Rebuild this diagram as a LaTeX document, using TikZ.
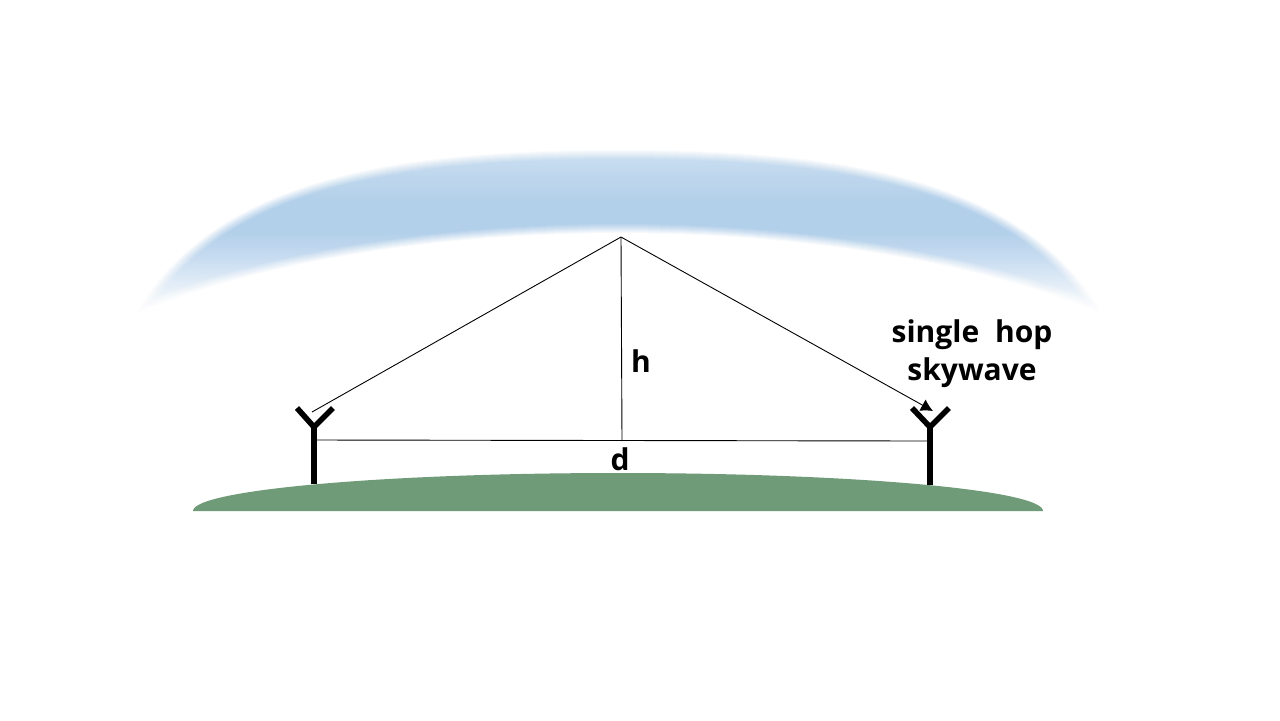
\documentclass[tikz,border=0pt]{standalone}
\usepackage{fontspec}
\setmainfont{Open Sans}
\usepackage{tikz}
\usetikzlibrary{arrows.meta}
\definecolor{groundgreen}{HTML}{6F9B78}
\definecolor{skyA}{HTML}{CCDFF1}
\definecolor{skyB}{HTML}{B3D0EA}
\definecolor{skyC}{HTML}{C6DBF0}
\pgfdeclareverticalshading{skyshade}{100bp}{color(0bp)=(white); color(26bp)=(white); color(43bp)=(skyC); color(50bp)=(skyB); color(60bp)=(skyB); color(75bp)=(skyA); color(100bp)=(skyA)}
\newcommand{\skyarc}{(133,316) .. controls (215,172) and (410,149) .. (619,149) .. controls (828,149) and (1023,172) .. (1105,316) .. controls (978,262) and (798,234) .. (619,234) .. controls (440,234) and (260,262) .. (133,316) -- cycle}
\begin{document}
\begin{tikzpicture}[x=.5pt,y=-.5pt,
   ray/.style={black,line width=.45pt},
   antenna/.style={black,line width=2.8pt},
   label/.style={font=\bfseries\fontsize{15}{19}\selectfont,inner sep=0pt,align=center}]
\useasboundingbox[fill=white] (0,0) rectangle (1280,720);
\fill[shading=skyshade] \skyarc;
\foreach \k [evaluate=\k as \o using 1/\k] in {10,9,...,1}
    \draw[white,opacity=\o,line width=\k pt,line join=round] \skyarc;
\fill[groundgreen] (193,511) arc[start angle=180,end angle=360,x radius=425,y radius=38] -- cycle;
\coordinate (apex) at (621,237);
\coordinate (leftbase) at (314,484);
\coordinate (leftjoint) at (314,427);
\coordinate (lefttipa) at (297,408);
\coordinate (lefttipb) at (333,408);
\coordinate (leftfoot) at (316,440);
\coordinate (rightbase) at (930,485);
\coordinate (rightjoint) at (930,427);
\coordinate (righttipa) at (912,408);
\coordinate (righttipb) at (949,408);
\coordinate (rightfoot) at (930,441);
\coordinate (midfoot) at (622,441);
\coordinate (leftray) at (312,412);
\coordinate (rightray) at (933,411);
\draw[antenna] (leftbase) -- (leftjoint);
\draw[antenna] (lefttipa) -- (leftjoint) -- (lefttipb);
\draw[antenna] (rightbase) -- (rightjoint);
\draw[antenna] (righttipa) -- (rightjoint) -- (righttipb);
\draw[ray] (leftray) -- (apex);
\draw[ray,-{Latex[length=6pt,width=6.5pt]}] (apex) -- (rightray);
\draw[ray] (apex) -- (midfoot);
\draw[ray] (leftfoot) -- (rightfoot);
\node[label] (hlabel) at (641,361) {h};
\node[label] (dlabel) at (620,459) {d};
\node[label] (hoplabel) at (972,354) {single\hspace{4pt} hop\\skywave};
\end{tikzpicture}
\end{document}
